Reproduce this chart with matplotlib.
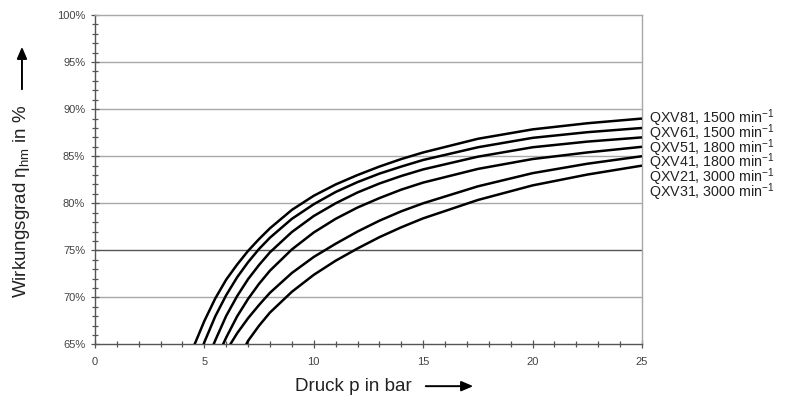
import numpy as np
import matplotlib
matplotlib.use("Agg")
import matplotlib.pyplot as plt
from matplotlib.patches import FancyArrowPatch
from matplotlib.ticker import MultipleLocator, FuncFormatter

plt.rcParams['font.family'] = ['Liberation Sans', 'DejaVu Sans']
plt.rcParams['mathtext.fontset'] = 'custom'
plt.rcParams['mathtext.rm'] = 'Liberation Sans'
plt.rcParams['mathtext.it'] = 'Liberation Sans:italic'

# pressure grid in bar
pressure = [5, 5.5, 6, 6.5, 7, 7.5, 8, 9, 10, 11, 12, 13, 14, 15, 17.5, 20, 22.5, 25]

# pump types, from top curve to bottom curve
labels = ["QXV81, 1500 min$^{-1}$", "QXV61, 1500 min$^{-1}$", "QXV51, 1800 min$^{-1}$",
          "QXV41, 1800 min$^{-1}$", "QXV21, 3000 min$^{-1}$", "QXV31, 3000 min$^{-1}$"]

# pressure where each curve leaves the 65 % line
p_start = [4.55, 4.96, 5.42, 5.85, 6.18, 6.91]

nan = np.nan
eta = [
    [67.5, 69.9, 71.9, 73.5, 74.95, 76.2, 77.35, 79.3, 80.8, 82.0, 83.0, 83.9, 84.7, 85.4, 86.85, 87.85, 88.5, 89.0],
    [65.25, 68.0, 70.25, 72.15, 73.75, 75.15, 76.35, 78.35, 79.9, 81.2, 82.25, 83.15, 83.9, 84.6, 85.95, 86.95, 87.55, 88.0],
    [nan, 65.45, 68.05, 70.15, 71.95, 73.45, 74.8, 76.95, 78.65, 80.0, 81.15, 82.1, 82.9, 83.6, 84.95, 85.95, 86.55, 87.0],
    [nan, nan, 65.75, 68.0, 69.85, 71.45, 72.85, 75.1, 76.9, 78.35, 79.55, 80.55, 81.45, 82.2, 83.65, 84.7, 85.4, 86.0],
    [nan, nan, nan, 66.2, 67.8, 69.2, 70.5, 72.6, 74.3, 75.7, 77.0, 78.15, 79.15, 80.0, 81.8, 83.2, 84.2, 85.0],
    [nan, nan, nan, nan, 65.4, 67.0, 68.4, 70.6, 72.4, 73.9, 75.2, 76.4, 77.45, 78.4, 80.35, 81.9, 83.05, 84.0],
]

fig = plt.figure(figsize=(7.96, 4.01), dpi=100)
ax = fig.add_axes([0.1193, 0.1409, 0.6872, 0.8217])

ax.set_xlim(0, 25)
ax.set_ylim(65, 100)

# horizontal grid, 75 % line slightly darker
for g in range(70, 100, 5):
    ax.axhline(g, color='#555555' if g == 75 else '#a8a8a8', lw=1.0, zorder=1)

for p0, vals in zip(p_start, eta):
    p = np.array(pressure)
    v = np.array(vals)
    keep = ~np.isnan(v)
    x = np.concatenate([[p0], p[keep]])
    y = np.concatenate([[65.0], v[keep]])
    ax.plot(x, y, color='black', lw=1.8, solid_capstyle='butt', zorder=3)

# curve labels right of the plot
for i, lab in enumerate(labels):
    ax.text(25.3, 89.0 - i * 1.56, lab, fontsize=10.3, color='#222222',
            va='center', ha='left', clip_on=False)

ax.xaxis.set_major_locator(MultipleLocator(5))
ax.xaxis.set_minor_locator(MultipleLocator(1))
ax.yaxis.set_major_locator(MultipleLocator(5))
ax.yaxis.set_minor_locator(MultipleLocator(1))
ax.yaxis.set_major_formatter(FuncFormatter(lambda v, _: f"{v:.0f}%"))

ax.tick_params(which='both', direction='inout', colors='#555555', width=0.9,
               labelsize=8, labelcolor='#444444')
ax.tick_params(which='major', length=6)
ax.tick_params(which='minor', length=4)
ax.tick_params(axis='x', pad=6)
ax.tick_params(axis='y', pad=4)

for side in ('left', 'bottom'):
    ax.spines[side].set_color('#555555')
    ax.spines[side].set_linewidth(1.0)
for side in ('top', 'right'):
    ax.spines[side].set_color('#a8a8a8')
    ax.spines[side].set_linewidth(1.0)

# axis titles with arrows
fig.text(0.444, 0.037, "Druck p in bar", fontsize=13.5, color='#222222',
         ha='center', va='center')
fig.add_artist(FancyArrowPatch(
    (423 / 796, 0.037), (476 / 796, 0.037), transform=fig.transFigure,
    arrowstyle='-|>,head_length=7,head_width=3', color='black', lw=1.4))

fig.text(0.0276, 0.497, "Wirkungsgrad η$_{\\mathrm{hm}}$ in %", fontsize=13.5,
         color='#222222', rotation=90, ha='center', va='center')
fig.add_artist(FancyArrowPatch(
    (0.0276, 1 - 92 / 401), (0.0276, 1 - 44 / 401), transform=fig.transFigure,
    arrowstyle='-|>,head_length=7,head_width=3', color='black', lw=1.4))

fig.savefig('out.png', dpi=100)
